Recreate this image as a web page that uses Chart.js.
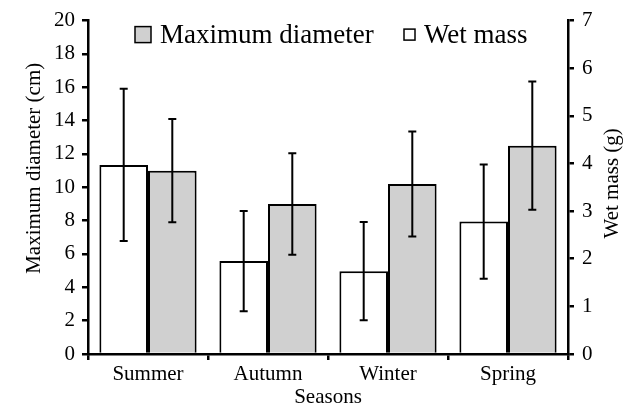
<!DOCTYPE html>
<html>
<head>
<meta charset="utf-8">
<script src="https://cdn.jsdelivr.net/npm/chart.js@4.4.0/dist/chart.umd.min.js"></script>
<style>
  html, body { margin: 0; padding: 0; background: #fff; }
  #wrap { width: 629px; height: 410px; }
</style>
</head>
<body>
<div id="wrap"><canvas id="seasonCanvas" width="629" height="410"></canvas></div>
<script>
const seasons = ['Summer', 'Autumn', 'Winter', 'Spring'];
const wetMass = [3.97, 1.95, 1.74, 2.78];
const wetMassErr = [1.6, 1.05, 1.03, 1.2];
const maxDiameter = [11.0, 9.0, 10.2, 12.5];
const maxDiameterErr = [3.1, 3.05, 3.15, 3.85];
const leftTicks = [0, 2, 4, 6, 8, 10, 12, 14, 16, 18, 20];
const rightTicks = [0, 1, 2, 3, 4, 5, 6, 7];

const serif = '"Liberation Serif", "Times New Roman", serif';

// error bars on top of each bar
const errorBars = {
  id: 'errorBars',
  afterDatasetsDraw(chart) {
    const ctx = chart.ctx;
    chart.data.datasets.forEach((ds, i) => {
      const meta = chart.getDatasetMeta(i);
      const scale = chart.scales[ds.yAxisID];
      meta.data.forEach((bar, j) => {
        const v = ds.data[j];
        const e = ds.errors[j];
        const top = scale.getPixelForValue(v + e);
        const bot = scale.getPixelForValue(v - e);
        ctx.save();
        ctx.strokeStyle = '#000';
        ctx.lineWidth = 2;
        ctx.beginPath();
        ctx.moveTo(bar.x, top);
        ctx.lineTo(bar.x, bot);
        ctx.moveTo(bar.x - 4, top);
        ctx.lineTo(bar.x + 4, top);
        ctx.moveTo(bar.x - 4, bot);
        ctx.lineTo(bar.x + 4, bot);
        ctx.stroke();
        ctx.restore();
      });
    });
  }
};

// both y titles read bottom to top, so draw them here
const sideTitles = {
  id: 'sideTitles',
  afterDraw(chart) {
    const ctx = chart.ctx;
    const area = chart.chartArea;
    const mid = (area.top + area.bottom) / 2;
    ctx.save();
    ctx.font = '21px ' + serif;
    ctx.fillStyle = '#000';
    ctx.textAlign = 'center';
    ctx.textBaseline = 'middle';
    [['Maximum diameter (cm)', 34, mid - 19], ['Wet mass (g)', 612, mid - 4]].forEach(([t, x, y]) => {
      ctx.save();
      ctx.translate(x, y);
      ctx.rotate(-Math.PI / 2);
      ctx.fillText(t, 0, 0);
      ctx.restore();
    });
    ctx.restore();
  }
};

// legend inside the plot, diameter first then wet mass
const innerLegend = {
  id: 'innerLegend',
  afterDraw(chart) {
    const ctx = chart.ctx;
    const area = chart.chartArea;
    const ds = chart.data.datasets;
    const items = [
      { d: ds[1], x: area.left + 47, box: 16 },
      { d: ds[0], x: area.left + 316, box: 11 }
    ];
    const cy = area.top + 14;
    ctx.save();
    ctx.font = '27px ' + serif;
    ctx.textBaseline = 'middle';
    items.forEach(it => {
      ctx.fillStyle = it.d.backgroundColor;
      ctx.strokeStyle = '#000';
      ctx.lineWidth = 1.5;
      ctx.fillRect(it.x, cy - it.box / 2, it.box, it.box);
      ctx.strokeRect(it.x, cy - it.box / 2, it.box, it.box);
      ctx.fillStyle = '#000';
      ctx.fillText(it.d.label, it.x + it.box + 9, cy + 1);
    });
    ctx.restore();
  }
};

const tickFont = { family: serif, size: 21 };

new Chart(document.getElementById('seasonCanvas').getContext('2d'), {
  type: 'bar',
  data: {
    labels: seasons,
    datasets: [
      {
        label: 'Wet mass',
        data: wetMass,
        errors: wetMassErr,
        yAxisID: 'y1',
        backgroundColor: '#ffffff',
        borderColor: '#000',
        borderWidth: 2,
        barPercentage: 1,
        categoryPercentage: 0.81
      },
      {
        label: 'Maximum diameter',
        data: maxDiameter,
        errors: maxDiameterErr,
        yAxisID: 'y',
        backgroundColor: '#d0d0d0',
        borderColor: '#000',
        borderWidth: 2,
        barPercentage: 1,
        categoryPercentage: 0.81
      }
    ]
  },
  options: {
    responsive: false,
    animation: false,
    layout: { padding: { top: 18, left: 0, right: 0, bottom: 0 } },
    scales: {
      x: {
        offset: true,
        grid: { offset: true, drawOnChartArea: false, tickLength: 6, color: '#000', lineWidth: 2.5 },
        border: { color: '#000', width: 2.5 },
        ticks: { color: '#000', font: tickFont, padding: 2 },
        title: { display: true, text: 'Seasons', color: '#000', font: tickFont, padding: { top: 0, bottom: 0 } },
        afterFit: s => { s.height = 56; }
      },
      y: {
        position: 'left',
        min: 0,
        max: 20,
        afterBuildTicks: s => { s.ticks = leftTicks.map(v => ({ value: v })); },
        grid: { drawOnChartArea: false, tickLength: 6, color: '#000', lineWidth: 2.5 },
        border: { color: '#000', width: 2.5 },
        ticks: { color: '#000', font: tickFont, padding: 7 },
        afterFit: s => { s.width = 88; }
      },
      y1: {
        position: 'right',
        min: 0,
        max: 7,
        afterBuildTicks: s => { s.ticks = rightTicks.map(v => ({ value: v })); },
        grid: { drawOnChartArea: false, tickLength: 6, color: '#000', lineWidth: 2.5 },
        border: { color: '#000', width: 2.5 },
        ticks: { color: '#000', font: tickFont, padding: 8 },
        afterFit: s => { s.width = 61; }
      }
    },
    plugins: {
      legend: { display: false },
      tooltip: { enabled: false }
    }
  },
  plugins: [errorBars, sideTitles, innerLegend]
});
</script>
</body>
</html>
